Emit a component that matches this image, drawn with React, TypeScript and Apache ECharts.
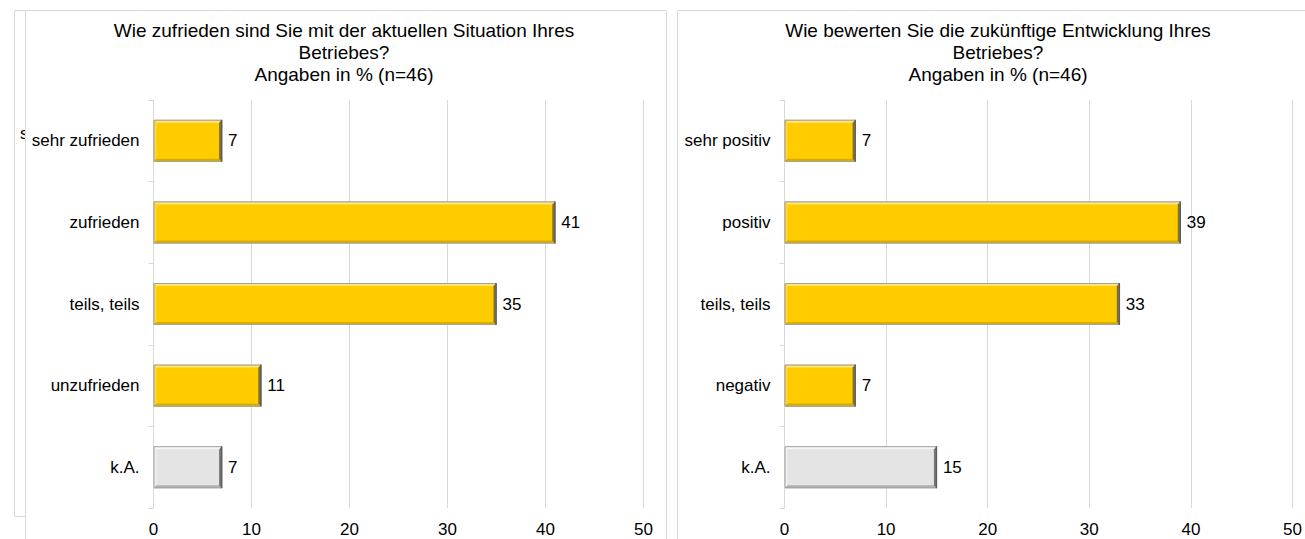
import React, { useEffect, useRef } from "react";
import * as echarts from "echarts";

// Survey results, percent of respondents (n=46)
const currentCategories = ["sehr zufrieden", "zufrieden", "teils, teils", "unzufrieden", "k.A."];
const currentValues = [7, 41, 35, 11, 7];

const futureCategories = ["sehr positiv", "positiv", "teils, teils", "negativ", "k.A."];
const futureValues = [7, 39, 33, 7, 15];

const axisMin = 0;
const axisMax = 50;
const axisStep = 10;

const currentTitle = "Wie zufrieden sind Sie mit der aktuellen Situation Ihres\nBetriebes?\nAngaben in % (n=46)";
const futureTitle = "Wie bewerten Sie die zukünftige Entwicklung Ihres\nBetriebes?\nAngaben in % (n=46)";

const FONT = "'Liberation Sans', Arial, Helvetica, sans-serif";
const BAR_H = 42;
const GRID_COLOR = "#d9d9d9";

type Palette = { main: string; top: string; left: string; bottom: string; right: string; edge: string };
const GOLD: Palette = { main: "#FFCC00", top: "#FFE47A", left: "#FFD633", bottom: "#D9AC00", right: "#7d7040", edge: "#a3a3a3" };
const GREY: Palette = { main: "#E4E4E4", top: "#F6F6F6", left: "#EFEFEF", bottom: "#B2B2B2", right: "#777777", edge: "#a3a3a3" };

const paletteFor = (cat: string) => (cat === "k.A." ? GREY : GOLD);

function bevelSeries(values: number[], cats: string[], idx: number) {
  return {
    type: "custom",
    xAxisIndex: idx,
    yAxisIndex: idx,
    silent: true,
    z: 3,
    encode: { x: 0, y: 1 },
    data: values.map((v, i) => [v, i]),
    renderItem: (_params: any, api: any) => {
      const v = api.value(0);
      const c = api.value(1);
      const p0 = api.coord([0, c]);
      const p1 = api.coord([v, c]);
      const pal = paletteFor(cats[c]);
      const x0 = p0[0];
      const x1 = p1[0];
      const y0 = p0[1] - BAR_H / 2;
      const y1 = y0 + BAR_H;
      const b = 3;
      return {
        type: "group",
        children: [
          { type: "polygon", shape: { points: [[x0, y0], [x1, y0], [x1 - b, y0 + b], [x0 + b, y0 + b]] }, style: { fill: pal.top } },
          { type: "polygon", shape: { points: [[x0, y0], [x0 + b, y0 + b], [x0 + b, y1 - b], [x0, y1]] }, style: { fill: pal.left } },
          { type: "polygon", shape: { points: [[x0, y1], [x0 + b, y1 - b], [x1 - b, y1 - b], [x1, y1]] }, style: { fill: pal.bottom } },
          { type: "polygon", shape: { points: [[x1, y0], [x1, y1], [x1 - b, y1 - b], [x1 - b, y0 + b]] }, style: { fill: pal.right } },
          { type: "rect", shape: { x: x0 + 0.5, y: y0 + 0.5, width: x1 - x0 - 1, height: BAR_H - 1 }, style: { fill: "none", stroke: pal.edge, lineWidth: 1 } },
          { type: "line", shape: { x1: x1 - 0.5, y1: y0, x2: x1 - 0.5, y2: y1 }, style: { stroke: "#5e5e5e", lineWidth: 1.5 } },
        ],
      };
    },
  };
}

function barSeries(values: number[], cats: string[], idx: number) {
  return {
    type: "bar",
    xAxisIndex: idx,
    yAxisIndex: idx,
    barWidth: BAR_H,
    z: 2,
    data: values.map((v, i) => ({ value: v, itemStyle: { color: paletteFor(cats[i]).main } })),
    itemStyle: { borderColor: "#a3a3a3", borderWidth: 1 },
    label: {
      show: true,
      position: "right",
      distance: 6,
      color: "#000",
      fontFamily: FONT,
      fontSize: 17,
    },
  };
}

function xAxis(idx: number) {
  return {
    type: "value",
    gridIndex: idx,
    min: axisMin,
    max: axisMax,
    interval: axisStep,
    axisLine: { show: false },
    axisTick: { show: false },
    axisLabel: { color: "#000", fontFamily: FONT, fontSize: 17, margin: 13 },
    splitLine: { show: true, lineStyle: { color: GRID_COLOR, width: 1 } },
  };
}

function yAxis(idx: number, cats: string[]) {
  return {
    type: "category",
    gridIndex: idx,
    inverse: true,
    data: cats,
    axisLine: { show: true, lineStyle: { color: GRID_COLOR, width: 1 } },
    axisTick: { show: true, length: 5, lineStyle: { color: GRID_COLOR } },
    axisLabel: { color: "#000", fontFamily: FONT, fontSize: 17, margin: 14 },
    splitLine: { show: false },
  };
}

export default function App() {
  const ref = useRef<HTMLDivElement>(null);

  useEffect(() => {
    if (!ref.current) return;
    const chart = echarts.init(ref.current, undefined, { renderer: "svg" });
    chart.setOption({
      animation: false,
      backgroundColor: "#ffffff",
      grid: [
        { left: 153.5, top: 100, width: 490, height: 408, containLabel: false },
        { left: 784.5, top: 100, width: 513, height: 408, containLabel: false },
      ],
      xAxis: [xAxis(0), xAxis(1)],
      yAxis: [yAxis(0, currentCategories), yAxis(1, futureCategories)],
      series: [
        barSeries(currentValues, currentCategories, 0),
        bevelSeries(currentValues, currentCategories, 0),
        barSeries(futureValues, futureCategories, 1),
        bevelSeries(futureValues, futureCategories, 1),
      ],
      graphic: [
        // chart frame lying behind the left panel
        {
          type: "polyline",
          z: -3,
          shape: { points: [[30, 10.5], [14.5, 10.5], [14.5, 516.5], [30, 516.5]] },
          style: { fill: "none", stroke: GRID_COLOR, lineWidth: 1 },
        },
        {
          type: "text",
          z: -3,
          x: 20,
          y: 133,
          style: { text: "s", font: `17px ${FONT}`, fill: "#000", verticalAlign: "middle" },
        },
        // left panel
        {
          type: "rect",
          z: -2,
          shape: { x: 25.5, y: 10.5, width: 641, height: 600 },
          style: { fill: "#ffffff", stroke: GRID_COLOR, lineWidth: 1 },
        },
        // right panel
        {
          type: "rect",
          z: -2,
          shape: { x: 677.5, y: 10.5, width: 700, height: 600 },
          style: { fill: "#ffffff", stroke: GRID_COLOR, lineWidth: 1 },
        },
        {
          type: "text",
          z: 5,
          x: 344,
          y: 19,
          style: {
            text: currentTitle,
            align: "center",
            verticalAlign: "top",
            font: `19px ${FONT}`,
            lineHeight: 22,
            fill: "#000",
          },
        },
        {
          type: "text",
          z: 5,
          x: 998,
          y: 19,
          style: {
            text: futureTitle,
            align: "center",
            verticalAlign: "top",
            font: `19px ${FONT}`,
            lineHeight: 22,
            fill: "#000",
          },
        },
      ],
    });
    return () => chart.dispose();
  }, []);

  return (
    <div
      ref={ref}
      style={{ position: "absolute", left: 0, top: 0, width: 1305, height: 539 }}
    />
  );
}
